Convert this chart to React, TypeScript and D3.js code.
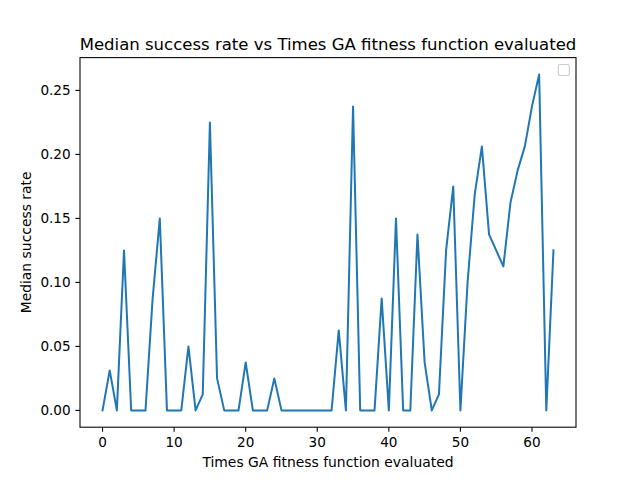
import React from "react";
import * as d3 from "d3";

const evaluations: number[] = Array.from({ length: 64 }, (_, i) => i);
const successRate: number[] = [
  0, 0.03125, 0, 0.125, 0, 0, 0, 0.0875, 0.15, 0,
  0, 0, 0.05, 0, 0.0125, 0.225, 0.025, 0, 0, 0,
  0.0375, 0, 0, 0, 0.025, 0, 0, 0, 0, 0,
  0, 0, 0, 0.0625, 0, 0.2375, 0, 0, 0, 0.0875,
  0, 0.15, 0, 0, 0.1375, 0.0375, 0, 0.0125, 0.125, 0.175,
  0, 0.1, 0.16875, 0.20625, 0.1375, 0.125, 0.1125, 0.1625, 0.1875, 0.20625,
  0.2375, 0.2625, 0, 0.125,
];
const xTicks: number[] = [0, 10, 20, 30, 40, 50, 60];
const yTicks: number[] = [0, 0.05, 0.1, 0.15, 0.2, 0.25];
const titleText = "Median success rate vs Times GA fitness function evaluated";
const xLabelText = "Times GA fitness function evaluated";
const yLabelText = "Median success rate";

const W = 640;
const H = 480;
const L = 80;
const R = 576;
const T = 57.6;
const B = 427.2;
const FONT = "DejaVu Sans, sans-serif";

export default function App() {
  const xMin = d3.min(evaluations)!;
  const xMax = d3.max(evaluations)!;
  const yMin = d3.min(successRate)!;
  const yMax = d3.max(successRate)!;
  const xm = (xMax - xMin) * 0.05;
  const ym = (yMax - yMin) * 0.05;
  const x = d3.scaleLinear().domain([xMin - xm, xMax + xm]).range([L, R]);
  const y = d3.scaleLinear().domain([yMin - ym, yMax + ym]).range([B, T]);
  const line = d3
    .line<number>()
    .x((_, i) => x(evaluations[i]))
    .y((d) => y(d));
  const tickLen = 4.67;
  return (
    <svg
      width={W}
      height={H}
      style={{ position: "absolute", left: 0, top: 0, background: "#fff" }}
      fontFamily={FONT}
    >
      <rect x={0} y={0} width={W} height={H} fill="#fff" />
      <path
        d={line(successRate) || ""}
        fill="none"
        stroke="#1f77b4"
        strokeWidth={2}
        strokeLinejoin="round"
        strokeLinecap="square"
      />
      {xTicks.map((t) => (
        <g key={"x" + t}>
          <line x1={x(t)} x2={x(t)} y1={B} y2={B + tickLen} stroke="#000" strokeWidth={1.07} />
          <text x={x(t)} y={B + 20} fontSize={13.6} textAnchor="middle" fill="#000">
            {t}
          </text>
        </g>
      ))}
      {yTicks.map((t) => (
        <g key={"y" + t}>
          <line x1={L - tickLen} x2={L} y1={y(t)} y2={y(t)} stroke="#000" strokeWidth={1.07} />
          <text
            x={L - 2 * tickLen}
            y={y(t)}
            dy="0.36em"
            fontSize={13.6}
            textAnchor="end"
            fill="#000"
          >
            {d3.format(".2f")(t)}
          </text>
        </g>
      ))}
      <rect x={L} y={T} width={R - L} height={B - T} fill="none" stroke="#000" strokeWidth={1.07} />
      <rect
        x={558.3}
        y={64.5}
        width={11}
        height={11}
        rx={2}
        fill="#fff"
        fillOpacity={0.8}
        stroke="#cccccc"
        strokeWidth={1.07}
      />
      <text x={(L + R) / 2} y={49.6} fontSize={16.55} textAnchor="middle" fill="#000">
        {titleText}
      </text>
      <text x={(L + R) / 2} y={467} fontSize={13.9} textAnchor="middle" fill="#000">
        {xLabelText}
      </text>
      <text
        transform={`translate(31,${(T + B) / 2}) rotate(-90)`}
        fontSize={13.9}
        textAnchor="middle"
        fill="#000"
      >
        {yLabelText}
      </text>
    </svg>
  );
}
